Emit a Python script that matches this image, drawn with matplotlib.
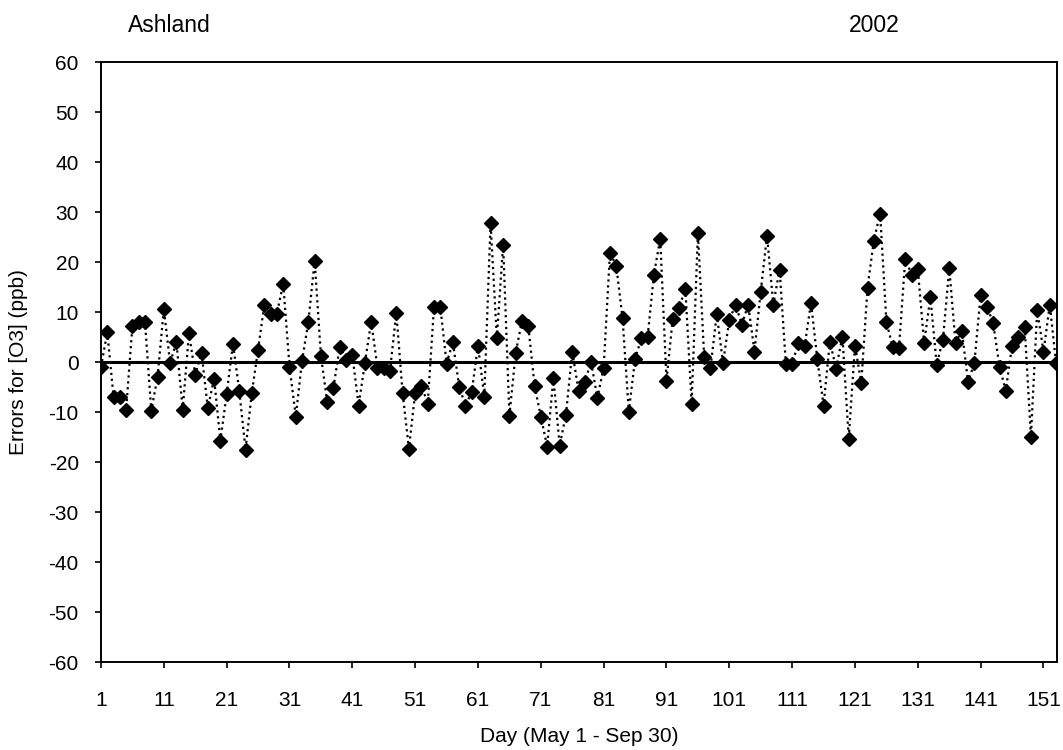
"""Ashland 2002: daily O3 forecast errors, May 1 - Sep 30."""
import matplotlib
matplotlib.use("Agg")
import matplotlib.pyplot as plt

plt.rcParams["font.family"] = ["Liberation Sans", "DejaVu Sans"]
plt.rcParams["axes.unicode_minus"] = False  # plain hyphen like the original

SITE = "Ashland"
YEAR = "2002"
X_LABEL = "Day (May 1 - Sep 30)"
Y_LABEL = "Errors for [O3] (ppb)"

days = list(range(1, 154))
errors = [
    -1, 6, -7, -7, -9.5, 7.3, 8, 8, -9.7, -3,            # 1-10
    10.6, -0.2, 4, -9.5, 5.8, -2.5, 1.8, -9.2, -3.3, -15.7,  # 11-20
    -6.4, 3.7, -5.7, -17.5, -6.2, 2.5, 11.5, 9.7, 9.7, 15.7,  # 21-30
    -0.9, -10.9, 0.3, 8, 20.3, 1.3, -8, -5.1, 3.1, 0.5,      # 31-40
    1.5, -8.7, -0.2, 8.1, -1.1, -1.1, -1.7, 9.9, -6.2, -17.3,  # 41-50
    -6.2, -4.7, -8.3, 11.1, 11.1, -0.3, 4, -4.9, -8.7, -6,    # 51-60
    3.3, -6.9, 27.8, 4.8, 23.5, -10.7, 1.8, 8.3, 7.3, -4.7,   # 61-70
    -10.9, -16.9, -3.2, -16.7, -10.5, 2.1, -5.7, -3.9, 0, -7.2,  # 71-80
    -1.1, 21.8, 19.3, 8.8, -9.9, 0.6, 4.8, 5.1, 17.5, 24.7,   # 81-90
    -3.7, 8.7, 10.8, 14.7, -8.3, 25.8, 1, -1.2, 9.6, -0.2,    # 91-100
    8.5, 11.4, 7.5, 11.5, 2.1, 14.1, 25.3, 11.5, 18.5, -0.4,  # 101-110
    -0.4, 3.9, 3.3, 11.9, 0.6, -8.7, 4.1, -1.3, 5.1, -15.3,   # 111-120
    3.3, -4.2, 14.9, 24.3, 29.7, 8, 3, 2.8, 20.7, 17.5,       # 121-130
    18.6, 3.8, 13, -0.5, 4.5, 18.8, 3.8, 6.3, -4, -0.2,       # 131-140
    13.5, 11.1, 7.8, -1, -5.7, 3.3, 5.1, 7.1, -14.9, 10.5,    # 141-150
    2, 11.5, -0.2,                                            # 151-153
]
x_ticks = list(range(1, 152, 10))
y_ticks = list(range(-60, 61, 10))

W, H = 1063, 750
fig = plt.figure(figsize=(W / 100, H / 100), dpi=100)
ax = fig.add_axes([101 / W, 1 - 662 / H, 956 / W, 600 / H])

ax.axhline(0, color="black", linewidth=2.2, zorder=2)
ax.plot(days, errors, linestyle=":", color="black", linewidth=1.6,
        marker="D", markersize=7.5, markerfacecolor="black",
        markeredgecolor="black", zorder=3)

ax.set_xlim(1, 153.15)
ax.set_ylim(-60, 60)
ax.set_xticks(x_ticks)
ax.set_yticks(y_ticks)
ax.tick_params(direction="out", length=4, width=1.2, labelsize=15,
               colors="black")
ax.tick_params(axis="y", pad=12)
ax.tick_params(axis="x", pad=17)
for s in ax.spines.values():
    s.set_linewidth(1.4)
    s.set_color("black")

fig.text(579 / W, 1 - 737 / H, X_LABEL, fontsize=15, ha="center", va="center")
fig.text(19 / W, 1 - 362 / H, Y_LABEL, fontsize=15, ha="center", va="center",
         rotation=90)
fig.text(169 / W, 1 - 25 / H, SITE, fontsize=16.5, ha="center", va="center")
fig.text(874 / W, 1 - 25 / H, YEAR, fontsize=16.5, ha="center", va="center")

fig.savefig("out.png", dpi=100)
